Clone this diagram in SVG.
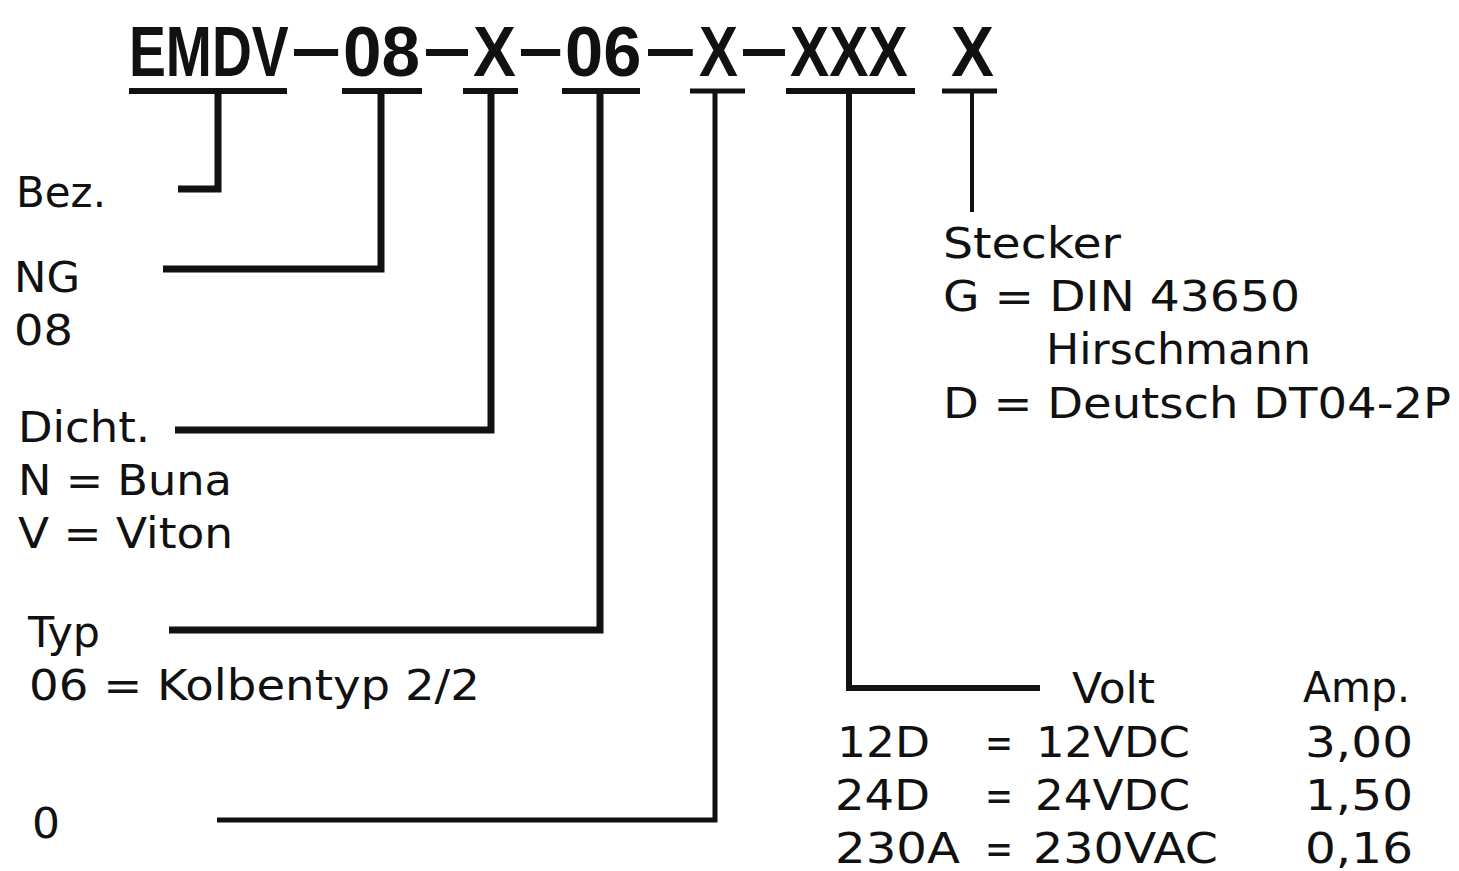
<svg xmlns="http://www.w3.org/2000/svg" width="1459" height="871" viewBox="0 0 1459 871">
<style>
.t{font-family:"Liberation Sans",Arial,sans-serif;font-weight:bold;font-size:70px;fill:#111}
.b{font-family:"DejaVu Sans","Liberation Sans",sans-serif;font-size:42px;fill:#111}
.ul{stroke:#111;stroke-width:6;fill:none}
.c{stroke:#111;fill:none;stroke-linejoin:miter;stroke-linecap:butt}
</style>
<rect x="0" y="0" width="1459" height="871" fill="#fff"/>
<g id="title">
<text class="t" transform="translate(129,76) scale(0.79,1)">EMDV</text>
<text class="t" transform="translate(294,71) scale(0.63,1)">—</text>
<text class="t" transform="translate(343,76) scale(0.99,1)">08</text>
<text class="t" transform="translate(426,71) scale(0.6,1)">—</text>
<text class="t" transform="translate(473,76) scale(0.92,1)">X</text>
<text class="t" transform="translate(521,71) scale(0.56,1)">—</text>
<text class="t" transform="translate(565,76) scale(0.98,1)">06</text>
<text class="t" transform="translate(648,71) scale(0.64,1)">—</text>
<text class="t" transform="translate(699,76) scale(0.835,1)">X</text>
<text class="t" transform="translate(743,71) scale(0.6,1)">—</text>
<text class="t" transform="translate(790,76) scale(0.84,1)">XXX</text>
<text class="t" transform="translate(951,76) scale(0.92,1)">X</text>
<line class="ul" x1="129" y1="91" x2="287" y2="91"/>
<line class="ul" x1="342" y1="91" x2="422" y2="91"/>
<line class="ul" x1="463" y1="91" x2="518" y2="91"/>
<line class="ul" x1="562" y1="91" x2="640" y2="91"/>
<line class="ul" x1="690" y1="91" x2="745" y2="91" style="stroke-width:5"/>
<line class="ul" x1="786" y1="91" x2="915" y2="91"/>
<line class="ul" x1="942" y1="91" x2="997" y2="91" style="stroke-width:5"/>
</g>
<g id="connectors">
<polyline class="c" stroke-width="7" points="218,91 218,189 178,189"/>
<polyline class="c" stroke-width="7" points="381,91 381,269 163,269"/>
<polyline class="c" stroke-width="7" points="491,91 491,430 175,430"/>
<polyline class="c" stroke-width="7" points="600,91 600,630 169,630"/>
<polyline class="c" stroke-width="5" points="715,91 715,820 217,820"/>
<polyline class="c" stroke-width="6" points="849,91 849,688 1040,688"/>
<polyline class="c" stroke-width="4" points="972,91 972,212"/>
</g>
<g id="bez">
<text class="b" x="16" y="207" textLength="90" lengthAdjust="spacingAndGlyphs">Bez.</text>
</g>
<g id="ng">
<text class="b" x="14" y="292" textLength="66" lengthAdjust="spacingAndGlyphs">NG</text>
<text class="b" x="14" y="345" textLength="59" lengthAdjust="spacingAndGlyphs">08</text>
</g>
<g id="dicht">
<text class="b" x="18" y="442" textLength="132" lengthAdjust="spacingAndGlyphs">Dicht.</text>
<text class="b" x="18" y="495" textLength="214" lengthAdjust="spacingAndGlyphs">N = Buna</text>
<text class="b" x="18" y="548" textLength="215" lengthAdjust="spacingAndGlyphs">V = Viton</text>
</g>
<g id="typ">
<text class="b" x="28" y="647" textLength="72" lengthAdjust="spacingAndGlyphs">Typ</text>
<text class="b" x="29" y="700" textLength="451" lengthAdjust="spacingAndGlyphs">06 = Kolbentyp 2/2</text>
</g>
<g id="o">
<text class="b" x="32" y="838" textLength="28" lengthAdjust="spacingAndGlyphs">0</text>
</g>
<g id="stecker">
<text class="b" x="943" y="258" textLength="178" lengthAdjust="spacingAndGlyphs">Stecker</text>
<text class="b" x="943" y="311" textLength="357" lengthAdjust="spacingAndGlyphs">G = DIN 43650</text>
<text class="b" x="1046" y="364" textLength="265" lengthAdjust="spacingAndGlyphs">Hirschmann</text>
<text class="b" x="943" y="418" textLength="508" lengthAdjust="spacingAndGlyphs">D = Deutsch DT04-2P</text>
</g>
<g id="volt">
<text class="b" x="1072" y="703" textLength="83" lengthAdjust="spacingAndGlyphs">Volt</text>
<text class="b" x="1303" y="702" textLength="107" lengthAdjust="spacingAndGlyphs">Amp.</text>
<text class="b" x="837" y="757" textLength="93" lengthAdjust="spacingAndGlyphs">12D</text>
<text class="b" x="985" y="757" textLength="28" lengthAdjust="spacingAndGlyphs">=</text>
<text class="b" x="1036" y="757" textLength="154" lengthAdjust="spacingAndGlyphs">12VDC</text>
<text class="b" x="1305" y="757" textLength="108" lengthAdjust="spacingAndGlyphs">3,00</text>
<text class="b" x="835" y="810" textLength="95" lengthAdjust="spacingAndGlyphs">24D</text>
<text class="b" x="985" y="810" textLength="28" lengthAdjust="spacingAndGlyphs">=</text>
<text class="b" x="1035" y="810" textLength="155" lengthAdjust="spacingAndGlyphs">24VDC</text>
<text class="b" x="1305" y="810" textLength="108" lengthAdjust="spacingAndGlyphs">1,50</text>
<text class="b" x="835" y="863" textLength="125" lengthAdjust="spacingAndGlyphs">230A</text>
<text class="b" x="985" y="863" textLength="28" lengthAdjust="spacingAndGlyphs">=</text>
<text class="b" x="1033" y="863" textLength="185" lengthAdjust="spacingAndGlyphs">230VAC</text>
<text class="b" x="1305" y="863" textLength="108" lengthAdjust="spacingAndGlyphs">0,16</text>
</g>
</svg>
